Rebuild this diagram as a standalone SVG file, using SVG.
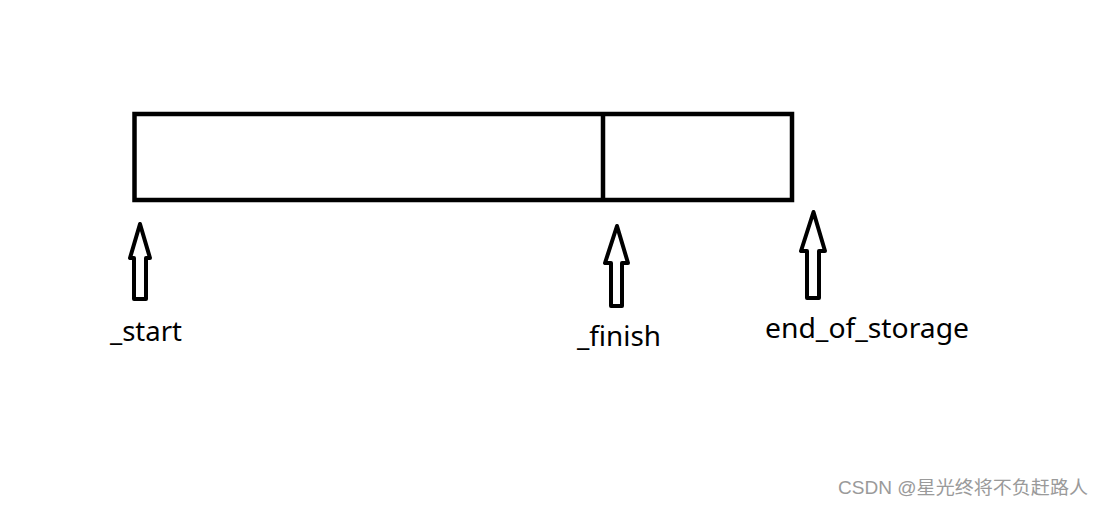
<svg xmlns="http://www.w3.org/2000/svg" width="1104" height="507" viewBox="0 0 1104 507">
<style>
.box{fill:none;stroke:#000;stroke-width:4.5}
.arr{fill:#fff;stroke:#000;stroke-width:4;stroke-linejoin:round}
.lbl{font-family:"Noto Sans","Open Sans",sans-serif;font-size:27px;fill:#000}
.wm{font-family:"Liberation Sans","Noto Sans CJK SC",sans-serif;font-size:18px;fill:#9a9a9a}
</style>
<rect width="1104" height="507" fill="#fff"/>
<g id="buffer">
<rect class="box" x="134.5" y="114" width="657.5" height="86"/>
<line class="box" x1="603" y1="114" x2="603" y2="200"/>
</g>
<g id="connectors">
<path class="arr" d="M140,224 L130,258 L134,258 L134,299 L146,299 L146,258 L150,258 Z"/>
<path class="arr" d="M617,226 L605,263 L611,263 L611,306 L622,306 L622,263 L628,263 Z"/>
<path class="arr" d="M813.5,212 L801,251 L807,251 L807,298 L819,298 L819,251 L825,251 Z"/>
</g>
<g id="start"><text class="lbl" x="110" y="341" textLength="72" lengthAdjust="spacingAndGlyphs">_start</text></g>
<g id="finish"><text class="lbl" x="577" y="346" textLength="84" lengthAdjust="spacingAndGlyphs">_finish</text></g>
<g id="end_of_storage"><text class="lbl" x="765" y="338" textLength="204" lengthAdjust="spacingAndGlyphs">end_of_storage</text></g>
<text class="wm" x="838" y="494" textLength="250" lengthAdjust="spacingAndGlyphs">CSDN @星光终将不负赶路人</text>
</svg>
